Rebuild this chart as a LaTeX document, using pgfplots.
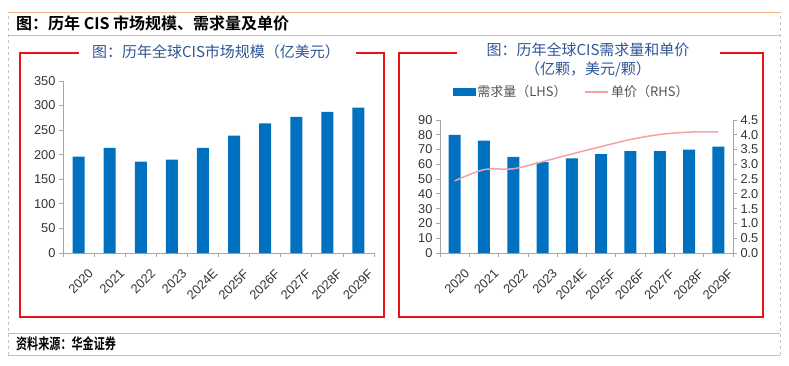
\documentclass[border=0pt]{standalone}
\usepackage{pgfplots}
\pgfplotsset{compat=1.18}
\usepackage{fontspec}
\setmainfont{Liberation Sans}
\newfontfamily\cjk{Noto Sans CJK SC}[BoldFont={Noto Sans CJK SC Bold}]
\definecolor{barblue}{HTML}{0070C0}
\definecolor{titleblue}{HTML}{2F5597}
\definecolor{boxred}{HTML}{E8141A}
\definecolor{linepink}{HTML}{F4A3A3}
\definecolor{orangeline}{HTML}{F4B183}
\definecolor{axgray}{HTML}{A6A6A6}
\definecolor{txt}{HTML}{333333}

\pgfplotsset{
  cisbase/.style={
    scale only axis,
    xmin=-0.5, xmax=9.5,
    ymin=0,
    xtick={0,...,9},
    xticklabels={2020,2021,2022,2023,2024E,2025F,2026F,2027F,2028F,2029F},
    minor xtick={-0.5,0.5,...,9.5},
    major x tick style={draw=none},
    minor x tick style={draw=axgray, line width=0.8pt},
    minor tick length=4pt,
    major tick length=4pt,
    tick align=outside,
    ytick style={draw=axgray, line width=0.8pt},
    axis line style={draw=axgray, line width=0.8pt},
    tick label style={text=txt, font=\fontsize{12.8}{14}\selectfont},
    xticklabel style={rotate=45, anchor=east, xshift=2pt, yshift=-19pt},
    /pgf/number format/assume math mode=true,
    clip=false,
  }
}

\begin{document}
\begin{tikzpicture}
\useasboundingbox (0pt,0pt) rectangle (789pt,365pt);

% outer frame
\draw[gray!45, dashed, line width=0.6pt] (8pt,10pt) -- (8pt,353pt);
\draw[gray!45, dashed, line width=0.6pt] (780pt,10pt) -- (780pt,353pt);
\draw[orangeline, line width=0.9pt] (8pt,353pt) -- (780pt,353pt);
\draw[orangeline, line width=0.9pt] (8pt,330pt) -- (780pt,330pt);
\draw[orangeline, line width=0.9pt] (8pt,32pt) -- (780pt,32pt);
\draw[orangeline, line width=0.9pt] (8pt,10pt) -- (780pt,10pt);

\node[anchor=west, inner sep=0pt] at (16pt,342pt)
  {\cjk\bfseries\fontsize{16}{18}\selectfont 图：历年 CIS 市场规模、需求量及单价};
\node[anchor=west, inner sep=0pt, xscale=0.74] at (16pt,21pt)
  {\cjk\bfseries\fontsize{15}{17}\selectfont 资料来源：华金证券};

% red boxes
\draw[boxred, line width=2pt] (79pt,312pt) -- (20pt,312pt) -- (20pt,48pt) -- (384pt,48pt) -- (384pt,312pt) -- (356pt,312pt);
\draw[boxred, line width=2pt] (457pt,312pt) -- (399pt,312pt) -- (399pt,48pt) -- (763pt,48pt) -- (763pt,312pt) -- (720pt,312pt);

% titles
\node[text=titleblue, inner sep=0pt] at (216pt,313pt)
  {\cjk\fontsize{15}{17}\selectfont 图：历年全球CIS市场规模（亿美元）};
\node[text=titleblue, inner sep=0pt] at (588pt,315pt)
  {\cjk\fontsize{15}{17}\selectfont 图：历年全球CIS需求量和单价};
\node[text=titleblue, inner sep=0pt] at (588pt,296pt)
  {\cjk\fontsize{15}{17}\selectfont （亿颗，美元/颗）};

% left chart
\begin{axis}[cisbase,
  at={(63pt,112pt)}, anchor=south west,
  width=311pt, height=172pt,
  ymax=350, ytick={0,50,...,350},
  axis x line*=bottom, axis y line*=left,
]
\addplot[ybar, bar width=12pt, fill=barblue, draw=none] coordinates {
(0,196) (1,214) (2,186) (3,190) (4,214) (5,239) (6,264) (7,277) (8,287) (9,296)};
\end{axis}

% right chart: bars
\begin{axis}[cisbase,
  at={(440pt,112pt)}, anchor=south west,
  width=293pt, height=133pt,
  ymax=90, ytick={0,10,...,90},
  axis x line*=bottom, axis y line*=left,
]
\addplot[ybar, bar width=12pt, fill=barblue, draw=none] coordinates {
(0,80) (1,76) (2,65) (3,61.5) (4,64) (5,67) (6,69) (7,69) (8,70) (9,72)};
\end{axis}

% right chart: price line
\begin{axis}[scale only axis,
  at={(440pt,112pt)}, anchor=south west,
  width=293pt, height=133pt,
  xmin=-0.5, xmax=9.5, ymin=0, ymax=4.5,
  ytick={0,0.5,...,4.5},
  axis x line=none, axis y line*=right,
  tick align=outside, major tick length=4pt,
  ytick style={draw=axgray, line width=0.8pt},
  axis line style={draw=axgray, line width=0.8pt},
  tick label style={text=txt, font=\fontsize{12.8}{14}\selectfont},
  yticklabel style={/pgf/number format/.cd, fixed, fixed zerofill, precision=1},
  /pgf/number format/assume math mode=true,
  legend columns=2,
  legend style={at={(axis description cs:0.45,1)}, anchor=center, yshift=28pt,
    draw=none, fill=none, font=\cjk\fontsize{13}{15}\selectfont, text=txt!85,
    /tikz/every even column/.append style={column sep=16pt}},
  clip=false,
]
\addlegendimage{legend image code/.code={\fill[barblue] (0pt,-3.5pt) rectangle (22pt,3.5pt);}}
\addlegendentry{需求量（LHS）}
\addplot[linepink, line width=1.5pt, smooth,
  legend image code/.code={\draw[linepink, line width=1.5pt] (0pt,0pt) -- (23pt,0pt);}]
  coordinates {(0,2.44) (1,2.82) (2,2.85) (3,3.09) (4,3.35) (5,3.60) (6,3.84) (7,4.01) (8,4.09) (9,4.10)};
\addlegendentry{单价（RHS）}
\end{axis}

\end{tikzpicture}
\end{document}
